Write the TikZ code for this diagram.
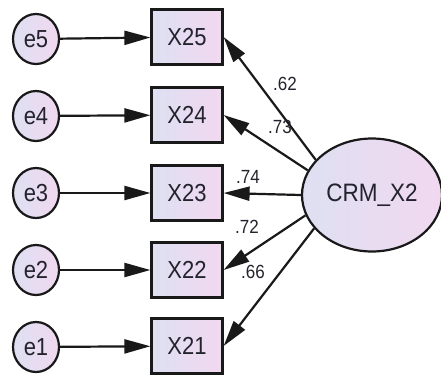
\documentclass[tikz,border=0pt]{standalone}
\usepackage{fontspec}
\setmainfont{Liberation Sans}
\usetikzlibrary{arrows.meta,shapes.geometric}
\definecolor{fillL}{RGB}{222,224,242}
\definecolor{fillR}{RGB}{241,216,241}
\definecolor{ink}{RGB}{35,35,45}
\definecolor{linec}{RGB}{25,25,25}
\newcommand{\vs}[1]{\scalebox{1}[1.12]{#1}}
\tikzset{
  errc/.style={ellipse, draw=linec, line width=2.2pt, minimum width=46pt, minimum height=50pt, inner sep=0pt,
    left color=fillL, right color=fillR, text=ink, font=\fontsize{22}{22}\selectfont},
  obsbox/.style={rectangle, draw=linec, line width=2.2pt, minimum width=71pt, minimum height=55pt, inner sep=0pt,
    left color=fillL, right color=fillR, text=ink, font=\fontsize{22}{22}\selectfont},
  latentv/.style={ellipse, draw=linec, line width=2.2pt, minimum width=140pt, minimum height=113pt, inner sep=0pt,
    left color=fillL, right color=fillR, text=ink, font=\fontsize{22.5}{22.5}\selectfont},
  loadlbl/.style={text=ink, font=\fontsize{17}{17}\selectfont, inner sep=0pt},
  conn/.style={draw=linec, line width=2.2pt, -{Triangle[length=26pt,width=14pt]}},
}
\begin{document}
\begin{tikzpicture}[x=1pt,y=-1pt]
\useasboundingbox (0,0) rectangle (441,376);
% latent
\node[latentv] (crm) at (372,195) {\vs{CRM\_X2}};
% observed boxes
\node[obsbox] (x25) at (187,37) {\vs{X25}};
\node[obsbox] (x24) at (187,115) {\vs{X24}};
\node[obsbox] (x23) at (187,193) {\vs{X23}};
\node[obsbox] (x22) at (187,270) {\vs{X22}};
\node[obsbox] (x21) at (187,346) {\vs{X21}};
% error terms
\node[errc] (e5) at (36,39) {\vs{e5}};
\node[errc] (e4) at (36,116) {\vs{e4}};
\node[errc] (e3) at (36,193) {\vs{e3}};
\node[errc] (e2) at (36,270) {\vs{e2}};
\node[errc] (e1) at (36,347) {\vs{e1}};
% error arrows
\draw[conn] (e5) -- (x25);
\draw[conn] (e4) -- (x24);
\draw[conn] (e3) -- (x23);
\draw[conn] (e2) -- (x22);
\draw[conn] (e1) -- (x21);
% loadings
\draw[conn] (crm.148) -- (x25.east);
\draw[conn] (crm.159) -- (x24.east);
\draw[conn] (crm.180) -- (x23.east);
\draw[conn] (crm.197) -- (x22.east);
\draw[conn] (crm.210) -- (x21.east);
% loading labels
\node[loadlbl] (l25) at (285,84) {\vs{.62}};
\node[loadlbl] (l24) at (280,127) {\vs{.73}};
\node[loadlbl] (l23) at (248,177) {\vs{.74}};
\node[loadlbl] (l22) at (247,227) {\vs{.72}};
\node[loadlbl] (l21) at (253,272) {\vs{.66}};
\end{tikzpicture}
\end{document}
